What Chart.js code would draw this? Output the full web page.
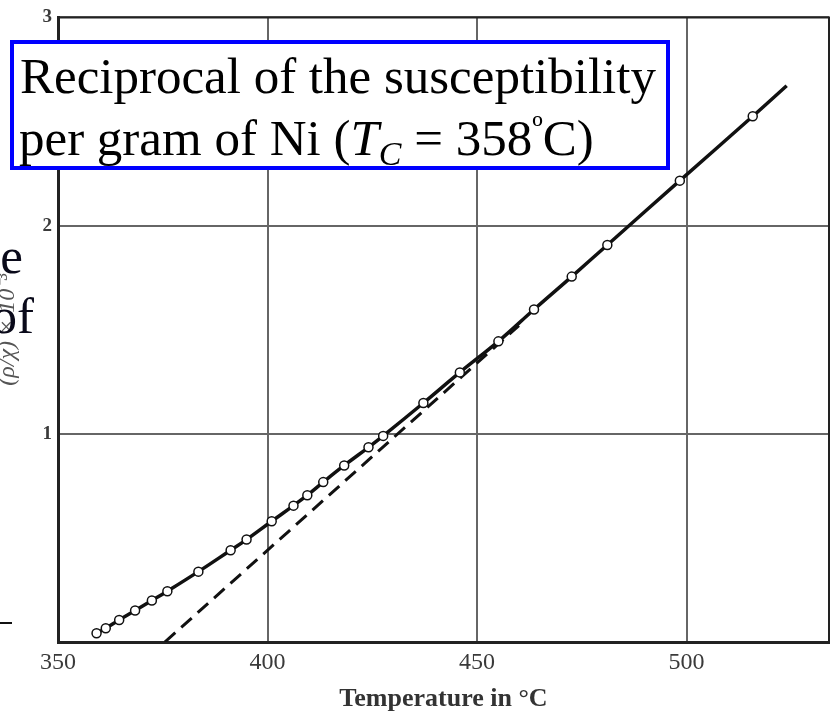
<!DOCTYPE html>
<html>
<head>
<meta charset="utf-8">
<script src="https://cdn.jsdelivr.net/npm/chart.js@4.4.1/dist/chart.umd.min.js"></script>
<style>
  body { margin: 0; background: #fff; }
  #wrap { width: 835px; height: 715px; }
</style>
</head>
<body>
<div id="wrap"><canvas id="chart" width="835" height="715"></canvas></div>
<script>
// measured points, temperature (°C) and reciprocal susceptibility
const tempC = [359.2, 361.4, 364.6, 368.4, 372.4, 376.1, 383.5, 391.2, 395.0, 401.0,
  406.2, 409.5, 413.3, 418.3, 424.1, 427.6, 437.2, 445.9, 455.1, 463.6,
  472.6, 481.1, 498.4, 515.8];
const invChi = [0.042, 0.066, 0.106, 0.151, 0.199, 0.244, 0.338, 0.441, 0.492, 0.580,
  0.655, 0.705, 0.768, 0.848, 0.935, 0.990, 1.148, 1.295, 1.444, 1.597,
  1.755, 1.907, 2.216, 2.525];
// where the drawn curve ends past the last point
const curveEndT = 523.9;
const curveEndV = 2.672;
// dashed extrapolation from high temperatures
const dashT = [375.5, 460];
const dashV = [0, 1.52];

const xTicks = [350, 400, 450, 500];
const yTicks = [0, 1, 2, 3];

const measured = tempC.map((t, i) => ({ x: t, y: invChi[i] }));
const curve = measured.concat([{ x: curveEndT, y: curveEndV }]);
const dashed = dashT.map((t, i) => ({ x: t, y: dashV[i] }));

// frame, caption box and the clipped slide text on the left
const overlay = {
  id: "overlay",
  afterDraw(chart) {
    const ctx = chart.ctx;
    const a = chart.chartArea;
    ctx.save();
    ctx.strokeStyle = "#222";
    ctx.lineWidth = 2;
    ctx.beginPath();
    ctx.moveTo(a.left, a.top);
    ctx.lineTo(a.right, a.top);
    ctx.lineTo(a.right, a.bottom);
    ctx.stroke();

    // caption box
    ctx.fillStyle = "#fff";
    ctx.fillRect(12, 42, 656, 126);
    ctx.strokeStyle = "#0000ff";
    ctx.lineWidth = 4;
    ctx.strokeRect(12, 42, 656, 126);

    ctx.fillStyle = "#000";
    ctx.textBaseline = "alphabetic";
    ctx.textAlign = "left";
    const serif = "'Liberation Serif', 'Times New Roman', serif";
    ctx.font = "51px " + serif;
    ctx.fillText("Reciprocal of the susceptibility", 20, 93);

    let x = 19;
    const y2 = 155;
    const put = (txt, font, dy) => {
      ctx.font = font;
      ctx.fillText(txt, x, y2 + (dy || 0));
      x += ctx.measureText(txt).width;
    };
    put("per gram of Ni (", "51px " + serif);
    put("T", "italic 51px " + serif);
    put("C", "italic 34px " + serif, 10);
    put(" = 358", "51px " + serif);
    put("º", "34px " + serif, -16);
    put("C)", "51px " + serif);

    // clipped words of the slide text at the left edge
    ctx.textAlign = "right";
    ctx.font = "51px " + serif;
    ctx.fillStyle = "#0a0a1a";
    ctx.fillText("the", 23, 273);
    ctx.fillText("of", 34, 333);
    ctx.strokeStyle = "#111";
    ctx.lineWidth = 2;
    ctx.beginPath();
    ctx.moveTo(0, 623);
    ctx.lineTo(12, 623);
    ctx.stroke();
    ctx.restore();
  },
};

new Chart(document.getElementById("chart"), {
  type: "scatter",
  data: {
    datasets: [
      {
        label: "measured",
        data: measured,
        showLine: false,
        pointRadius: 4.5,
        pointBackgroundColor: "#fff",
        pointBorderColor: "#111",
        pointBorderWidth: 1.5,
        order: 0,
      },
      {
        label: "curve",
        data: curve,
        showLine: true,
        borderColor: "#111",
        borderWidth: 3.5,
        pointRadius: 0,
        tension: 0.4,
        order: 1,
      },
      {
        label: "extrapolation",
        data: dashed,
        showLine: true,
        borderColor: "#111",
        borderWidth: 3,
        borderDash: [14, 8],
        pointRadius: 0,
        order: 2,
      },
    ],
  },
  options: {
    responsive: false,
    animation: false,
    devicePixelRatio: 1,
    layout: { padding: { top: 17, right: 5, left: 0, bottom: 0 } },
    plugins: {
      legend: { display: false },
      tooltip: { enabled: false },
    },
    scales: {
      x: {
        type: "linear",
        min: 350,
        max: 534,
        afterBuildTicks: (scale) => {
          scale.ticks = xTicks.map((v) => ({ value: v }));
        },
        afterFit: (scale) => {
          scale.height = 73;
        },
        grid: { color: "#666", lineWidth: 2, drawTicks: false },
        border: { color: "#222", width: 3 },
        ticks: {
          padding: 6,
          color: "#3a3a3a",
          font: { family: "'Liberation Serif', serif", size: 24 },
        },
        title: {
          display: true,
          text: "Temperature in °C",
          color: "#333",
          padding: { top: 6, bottom: 0 },
          font: { family: "'Liberation Serif', serif", size: 26, weight: "bold" },
        },
      },
      y: {
        min: 0,
        max: 3,
        afterBuildTicks: (scale) => {
          scale.ticks = yTicks.map((v) => ({ value: v }));
        },
        afterFit: (scale) => {
          scale.width = 58;
        },
        grid: { color: "#666", lineWidth: 2, drawTicks: false },
        border: { color: "#222", width: 3 },
        ticks: {
          padding: 6,
          color: "#3a3a3a",
          font: { family: "'Liberation Serif', serif", size: 19, weight: "bold" },
          callback: (v) => (v === 0 ? "" : v),
        },
        title: {
          display: true,
          text: "(ρ/χ) × 10⁻³",
          color: "#555",
          padding: { top: -7, bottom: 0 },
          font: { family: "'Liberation Serif', serif", size: 24, style: "italic" },
        },
      },
    },
  },
  plugins: [overlay],
});
</script>
</body>
</html>
